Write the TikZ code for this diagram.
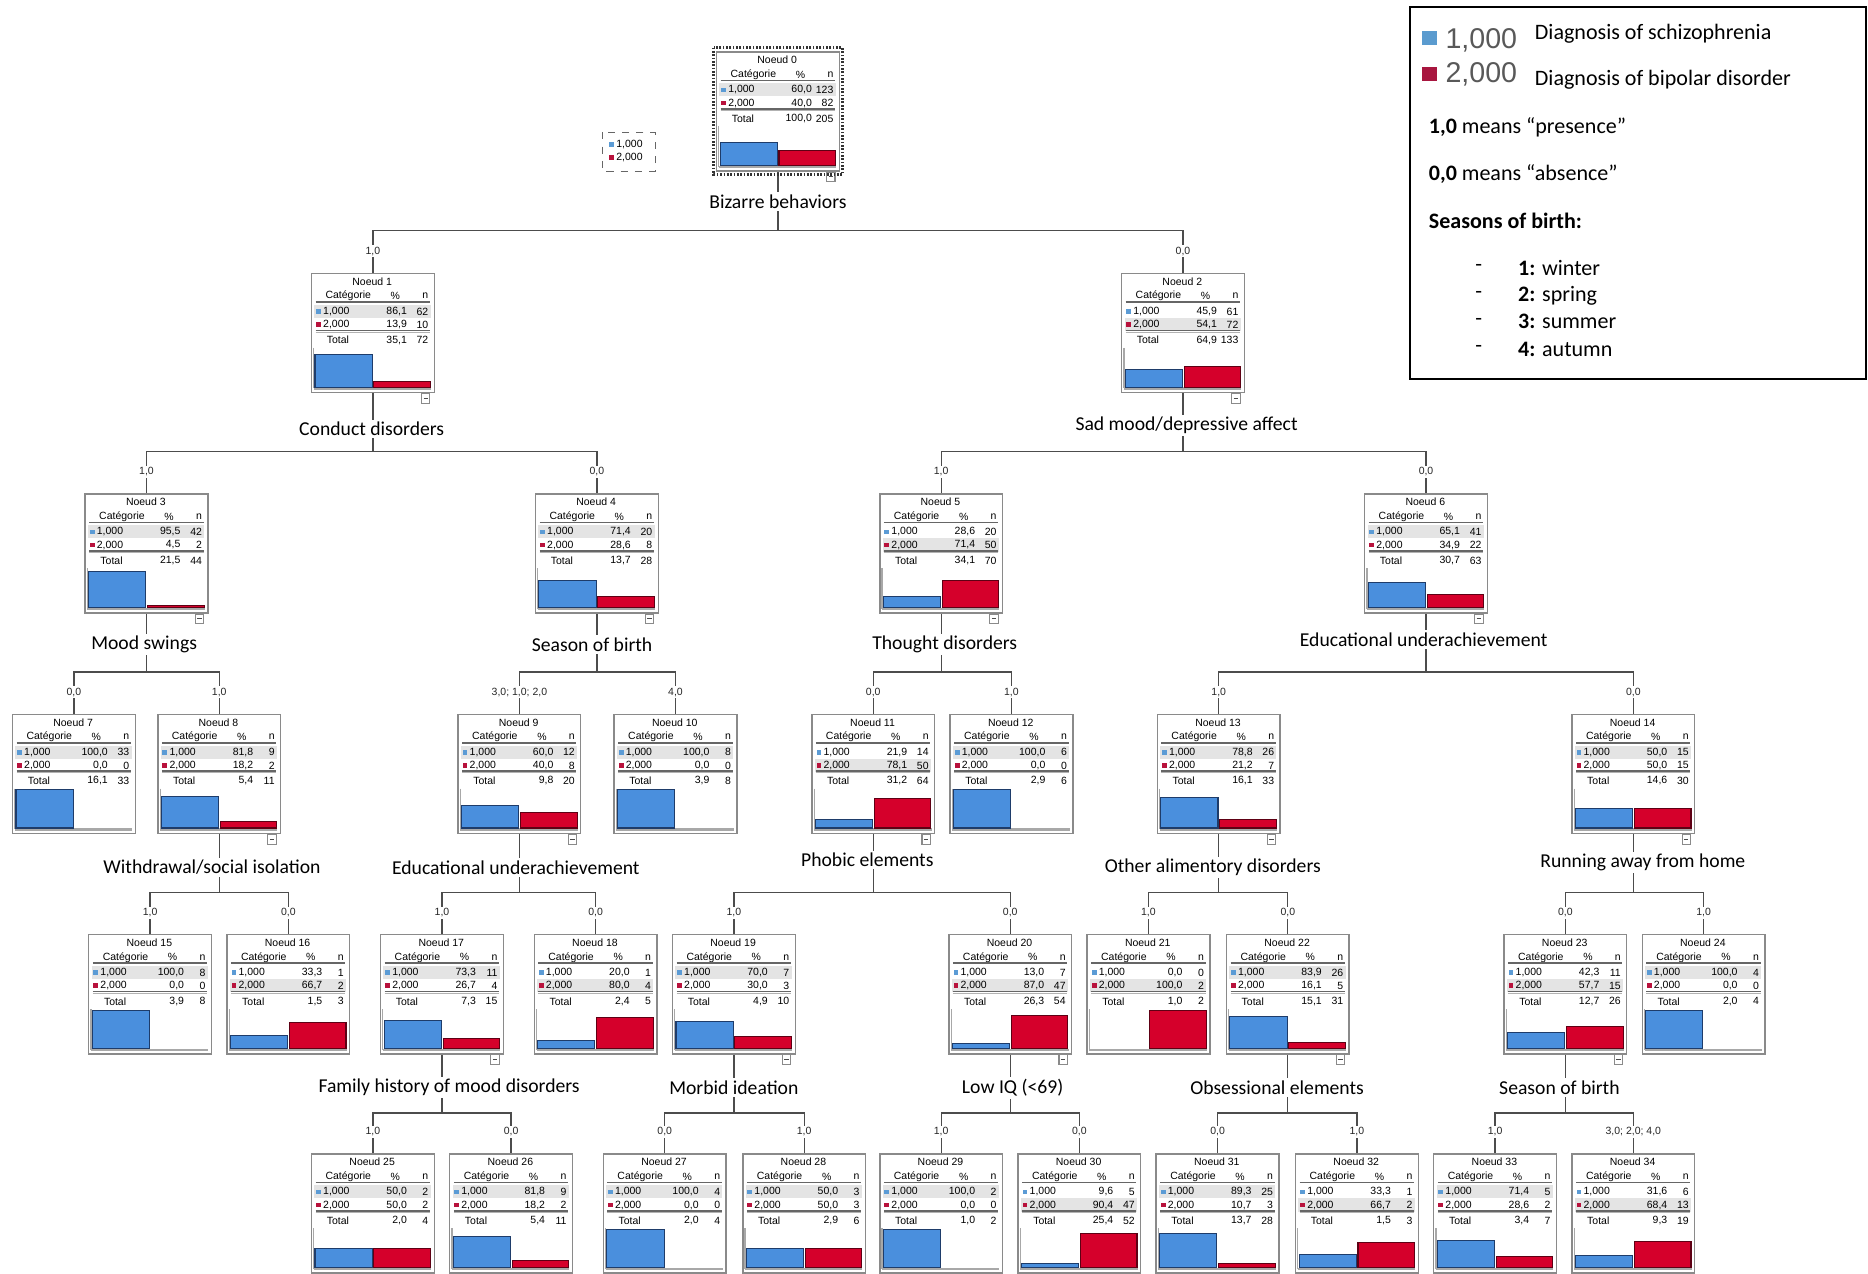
\documentclass[tikz,border=0pt]{standalone}
\usepackage{fontspec}
\setmainfont{Liberation Sans}
\newfontfamily\calib{Carlito}
\usetikzlibrary{calc}
\pgfdeclarelayer{bg}
\pgfdeclarelayer{paper}
\pgfsetlayers{paper,bg,main}

\definecolor{barblue}{HTML}{4A8FDD}
\definecolor{barblueD}{HTML}{1E3C6A}
\definecolor{barred}{HTML}{D5002B}
\definecolor{barredD}{HTML}{5E0014}
\definecolor{sqblue}{HTML}{5B9BD5}
\definecolor{sqred}{HTML}{B8123C}
\definecolor{hlgrey}{HTML}{E4E4E4}
\definecolor{boxgrey}{HTML}{8A8A8A}
\definecolor{axgrey}{HTML}{A8A8A8}
\definecolor{legblue}{HTML}{5A9BCF}
\definecolor{legred}{HTML}{A8163F}

\tikzset{
  tbox/.style={draw=boxgrey, line width=0.6pt, minimum width=51.5pt, minimum height=50pt, inner sep=0pt, anchor=north},
  ntxt/.style={font=\fontsize{4.4pt}{5pt}\selectfont, inner sep=0pt},
  conn/.style={draw=black!70, line width=0.55pt},
  brl/.style={font=\fontsize{4.4pt}{5pt}\selectfont, fill=white, inner sep=0.7pt, text=black!85},
  plab/.style={font=\calib\fontsize{8.25pt}{10pt}\selectfont, fill=white, inner sep=1pt},
  legtxt/.style={font=\calib\fontsize{9.25pt}{11pt}\selectfont, anchor=west, inner sep=0pt},
  bignum/.style={font=\fontsize{12pt}{14pt}\selectfont, text=black!65, anchor=west, inner sep=0pt},
}

\newcommand\setrows[6]{\def\rPa{#1}\def\rNa{#2}\def\rPb{#3}\def\rNb{#4}\def\rPt{#5}\def\rNt{#6}}
% #1 name #2 cx #3 top #4 number #5 highlighted row #6 button #7 blue % #8 red % #9 rows
\newcommand\tnode[9]{%
  \setrows#9%
  \node[tbox] (#1) at (#2,#3) {};
  \begin{scope}[shift={(#1.north west)}]
    \fill[hlgrey] (3,{16+11*#5}) rectangle (100.5,{27+11*#5});
    \node[ntxt] at (51.5,7.5) {Noeud #4};
    \node[ntxt,anchor=west] at (12,19.5) {Catégorie};
    \node[ntxt] at (71,19.5) {\%};
    \node[ntxt,anchor=east] at (99,19.5) {n};
    \draw[black!60, line width=0.7pt] (4,24.5) -- (100,24.5);
    \fill[sqblue] (4.5,30.5) rectangle (8.5,34.5);
    \node[ntxt,anchor=west] at (10,32.5) {1,000};
    \node[ntxt,anchor=east] at (81,32.5) {\rPa};
    \node[ntxt,anchor=east] at (99,32.5) {\rNa};
    \fill[sqred] (4.5,41.5) rectangle (8.5,45.5);
    \node[ntxt,anchor=west] at (10,43.5) {2,000};
    \node[ntxt,anchor=east] at (81,43.5) {\rPb};
    \node[ntxt,anchor=east] at (99,43.5) {\rNb};
    \draw[black!60, line width=0.7pt] (4,48.3) -- (100,48.3);
    \draw[black!30, line width=0.4pt] (4,49.7) -- (100,49.7);
    \node[ntxt,anchor=west] at (13,56.5) {Total};
    \node[ntxt,anchor=east] at (81,56.5) {\rPt};
    \node[ntxt,anchor=east] at (99,56.5) {\rNt};
    \draw[axgrey, line width=0.5pt] (2.5,63) -- (2.5,97);
    \draw[axgrey, line width=1.1pt] (2.5,97.3) -- (101,97.3);
    \ifdim #7pt>0.4pt
      \filldraw[fill=barblue, draw=barblueD, line width=0.45pt] (3.5,96) rectangle (51.5,{96-0.32*#7});
    \fi
    \ifdim #8pt>0.4pt
      \filldraw[fill=barred, draw=barredD, line width=0.45pt] (53,96) rectangle (100.5,{96-0.32*#8});
    \fi
    \ifnum#6=1
      \draw[boxgrey, line width=0.45pt, fill=white] (93,101.5) rectangle (100,109.5);
      \draw[black!70, line width=0.4pt] (94.6,105.5) -- (98.4,105.5);
    \fi
  \end{scope}
}
\newcommand\bl[2]{\node[brl] (#1-b) at ([yshift=9pt]#1.north) {#2};}
\newcommand\splitto[3]{%
  \path (#1.south) ++(0,49) coordinate (#1-h);
  \draw[conn] (#1.south) -- (#1-h);
  \draw[conn] (#2.north) |- (#1-h) -| (#3.north);
}

\begin{document}
\begin{tikzpicture}[x=0.5pt,y=-0.5pt]
\begin{pgfonlayer}{paper}
\fill[white] (0,0) rectangle (1568,1069);
\end{pgfonlayer}
\useasboundingbox (0,0) rectangle (1568,1069);

% ---- tree nodes ----
\tnode{n0}{653}{43}{0}{1}{1}{60}{40}{{60,0}{123}{40,0}{82}{100,0}{205}}
\draw[black!80, line width=1.2pt, dash pattern=on 0.7pt off 0.7pt] (599,40) rectangle (707,146.5);

\tnode{n1}{313}{229}{1}{1}{1}{86.1}{13.9}{{86,1}{62}{13,9}{10}{35,1}{72}}
\tnode{n2}{993}{229}{2}{2}{1}{45.9}{54.1}{{45,9}{61}{54,1}{72}{64,9}{133}}

\tnode{n3}{123}{414}{3}{1}{1}{95.5}{4.5}{{95,5}{42}{4,5}{2}{21,5}{44}}
\tnode{n4}{501}{414}{4}{1}{1}{71.4}{28.6}{{71,4}{20}{28,6}{8}{13,7}{28}}
\tnode{n5}{790}{414}{5}{2}{1}{28.6}{71.4}{{28,6}{20}{71,4}{50}{34,1}{70}}
\tnode{n6}{1197}{414}{6}{1}{1}{65.1}{34.9}{{65,1}{41}{34,9}{22}{30,7}{63}}

\tnode{n7}{62}{599}{7}{1}{0}{100}{0}{{100,0}{33}{0,0}{0}{16,1}{33}}
\tnode{n8}{184}{599}{8}{1}{1}{81.8}{18.2}{{81,8}{9}{18,2}{2}{5,4}{11}}
\tnode{n9}{436}{599}{9}{1}{1}{60}{40}{{60,0}{12}{40,0}{8}{9,8}{20}}
\tnode{n10}{567}{599}{10}{1}{0}{100}{0}{{100,0}{8}{0,0}{0}{3,9}{8}}
\tnode{n11}{733}{599}{11}{2}{1}{21.9}{78.1}{{21,9}{14}{78,1}{50}{31,2}{64}}
\tnode{n12}{849}{599}{12}{1}{0}{100}{0}{{100,0}{6}{0,0}{0}{2,9}{6}}
\tnode{n13}{1023}{599}{13}{1}{1}{78.8}{21.2}{{78,8}{26}{21,2}{7}{16,1}{33}}
\tnode{n14}{1371}{599}{14}{1}{1}{50}{50}{{50,0}{15}{50,0}{15}{14,6}{30}}

\tnode{n15}{126}{784}{15}{1}{0}{100}{0}{{100,0}{8}{0,0}{0}{3,9}{8}}
\tnode{n16}{242}{784}{16}{2}{0}{33.3}{66.7}{{33,3}{1}{66,7}{2}{1,5}{3}}
\tnode{n17}{371}{784}{17}{1}{1}{73.3}{26.7}{{73,3}{11}{26,7}{4}{7,3}{15}}
\tnode{n18}{500}{784}{18}{2}{0}{20}{80}{{20,0}{1}{80,0}{4}{2,4}{5}}
\tnode{n19}{616}{784}{19}{1}{1}{70}{30}{{70,0}{7}{30,0}{3}{4,9}{10}}
\tnode{n20}{848}{784}{20}{2}{1}{13}{87}{{13,0}{7}{87,0}{47}{26,3}{54}}
\tnode{n21}{964}{784}{21}{2}{0}{0}{100}{{0,0}{0}{100,0}{2}{1,0}{2}}
\tnode{n22}{1081}{784}{22}{1}{1}{83.9}{16.1}{{83,9}{26}{16,1}{5}{15,1}{31}}
\tnode{n23}{1314}{784}{23}{2}{1}{42.3}{57.7}{{42,3}{11}{57,7}{15}{12,7}{26}}
\tnode{n24}{1430}{784}{24}{1}{0}{100}{0}{{100,0}{4}{0,0}{0}{2,0}{4}}

\tnode{n25}{313}{968}{25}{1}{0}{50}{50}{{50,0}{2}{50,0}{2}{2,0}{4}}
\tnode{n26}{429}{968}{26}{1}{0}{81.8}{18.2}{{81,8}{9}{18,2}{2}{5,4}{11}}
\tnode{n27}{558}{968}{27}{1}{0}{100}{0}{{100,0}{4}{0,0}{0}{2,0}{4}}
\tnode{n28}{675}{968}{28}{1}{0}{50}{50}{{50,0}{3}{50,0}{3}{2,9}{6}}
\tnode{n29}{790}{968}{29}{1}{0}{100}{0}{{100,0}{2}{0,0}{0}{1,0}{2}}
\tnode{n30}{906}{968}{30}{2}{0}{9.6}{90.4}{{9,6}{5}{90,4}{47}{25,4}{52}}
\tnode{n31}{1022}{968}{31}{1}{0}{89.3}{10.7}{{89,3}{25}{10,7}{3}{13,7}{28}}
\tnode{n32}{1139}{968}{32}{2}{0}{33.3}{66.7}{{33,3}{1}{66,7}{2}{1,5}{3}}
\tnode{n33}{1255}{968}{33}{1}{0}{71.4}{28.6}{{71,4}{5}{28,6}{2}{3,4}{7}}
\tnode{n34}{1371}{968}{34}{2}{0}{31.6}{68.4}{{31,6}{6}{68,4}{13}{9,3}{19}}

% ---- split labels ----
\node[plab] (n0-l) at (653,169) {Bizarre behaviors};
\node[plab] (n1-l) at (312,360) {Conduct disorders};
\node[plab] (n2-l) at (996,357) {Sad mood/depressive affect};
\node[plab] (n3-l) at (121,541) {Mood swings};
\node[plab] (n4-l) at (497,541) {Season of birth};
\node[plab] (n5-l) at (793,541) {Thought disorders};
\node[plab] (n6-l) at (1195,537) {Educational underachievement};
\node[plab] (n8-l) at (178,728) {Withdrawal/social isolation};
\node[plab] (n9-l) at (433,728) {Educational underachievement};
\node[plab] (n11-l) at (728,722) {Phobic elements};
\node[plab] (n13-l) at (1018,728) {Other alimentory disorders};
\node[plab] (n14-l) at (1379,724) {Running away from home};
\node[plab] (n17-l) at (377,913) {Family history of mood disorders};
\node[plab] (n19-l) at (616,913) {Morbid ideation};
\node[plab] (n20-l) at (850,913) {Low IQ (<69)};
\node[plab] (n22-l) at (1072,913) {Obsessional elements};
\node[plab] (n23-l) at (1309,913) {Season of birth};

% ---- branch labels ----
\bl{n1}{1,0}\bl{n2}{0,0}
\bl{n3}{1,0}\bl{n4}{0,0}\bl{n5}{1,0}\bl{n6}{0,0}
\bl{n7}{0,0}\bl{n8}{1,0}\bl{n9}{3,0; 1,0; 2,0}\bl{n10}{4,0}
\bl{n11}{0,0}\bl{n12}{1,0}\bl{n13}{1,0}\bl{n14}{0,0}
\bl{n15}{1,0}\bl{n16}{0,0}\bl{n17}{1,0}\bl{n18}{0,0}\bl{n19}{1,0}
\bl{n20}{0,0}\bl{n21}{1,0}\bl{n22}{0,0}\bl{n23}{0,0}\bl{n24}{1,0}
\bl{n25}{1,0}\bl{n26}{0,0}\bl{n27}{0,0}\bl{n28}{1,0}\bl{n29}{1,0}
\bl{n30}{0,0}\bl{n31}{0,0}\bl{n32}{1,0}\bl{n33}{1,0}\bl{n34}{3,0; 2,0; 4,0}

% ---- connectors ----
\begin{pgfonlayer}{bg}
\splitto{n0}{n1}{n2}
\splitto{n1}{n3}{n4}
\splitto{n2}{n5}{n6}
\splitto{n3}{n7}{n8}
\splitto{n4}{n9}{n10}
\splitto{n5}{n11}{n12}
\splitto{n6}{n13}{n14}
\splitto{n8}{n15}{n16}
\splitto{n9}{n17}{n18}
\splitto{n11}{n19}{n20}
\splitto{n13}{n21}{n22}
\splitto{n14}{n23}{n24}
\splitto{n17}{n25}{n26}
\splitto{n19}{n27}{n28}
\splitto{n20}{n29}{n30}
\splitto{n22}{n31}{n32}
\splitto{n23}{n33}{n34}
\end{pgfonlayer}

% ---- small dashed legend ----
\draw[dashed, black!60, line width=0.5pt] (506,111) rectangle (550,144);
\fill[sqblue] (511,119.5) rectangle (515,123.5);
\node[ntxt,anchor=west] (lg1) at (517,121.5) {1,000};
\fill[sqred] (511,130.5) rectangle (515,134.5);
\node[ntxt,anchor=west] (lg2) at (517,132.5) {2,000};

% ---- main legend ----
\draw[black, line width=0.8pt] (1183.5,6) rectangle (1566.5,318);
\fill[legblue] (1194,26) rectangle (1206,38);
\node[bignum] (k1) at (1213,34) {1,000};
\node[legtxt] (d1) at (1288,28) {Diagnosis of schizophrenia};
\fill[legred] (1194,56) rectangle (1206,68);
\node[bignum] (k2) at (1213,62) {2,000};
\node[legtxt] (d2) at (1288,67) {Diagnosis of bipolar disorder};
\node[legtxt] (m1) at (1199,107) {\textbf{1,0} means “presence”};
\node[legtxt] (m2) at (1199,146) {\textbf{0,0} means “absence”};
\node[legtxt] (m3) at (1199,185) {\textbf{Seasons of birth:}};
\node[legtxt] (s1d) at (1238,225) {-};
\node[legtxt] (s1) at (1274,225) {\textbf{1:} winter};
\node[legtxt] (s2d) at (1238,248) {-};
\node[legtxt] (s2) at (1274,248) {\textbf{2:} spring};
\node[legtxt] (s3d) at (1238,270) {-};
\node[legtxt] (s3) at (1274,270) {\textbf{3:} summer};
\node[legtxt] (s4d) at (1238,293) {-};
\node[legtxt] (s4) at (1274,293) {\textbf{4:} autumn};
\end{tikzpicture}
\end{document}
